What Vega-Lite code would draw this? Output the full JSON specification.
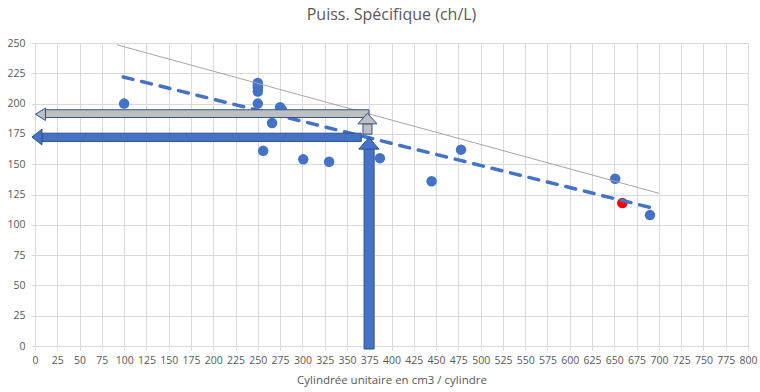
{
  "$schema": "https://vega.github.io/schema/vega-lite/v6.json",
  "width": 713,
  "height": 303,
  "autosize": "none",
  "padding": {"left": 35, "top": 43, "right": 12, "bottom": 46},
  "background": "white",
  "config": {
    "view": {"stroke": null},
    "font": "Open Sans",
    "axis": {
      "gridColor": "#D9D9D9",
      "gridWidth": 1,
      "tickColor": "#D9D9D9",
      "tickSize": 4,
      "domainColor": "#D9D9D9",
      "labelColor": "#595959",
      "labelFont": "Open Sans",
      "labelFontSize": 10.5,
      "titleColor": "#595959",
      "titleFont": "Open Sans",
      "titleFontSize": 11.5,
      "titleFontWeight": "normal"
    }
  },
  "title": {
    "text": "Puiss. Spécifique (ch/L)",
    "font": "Open Sans",
    "fontSize": 16,
    "fontWeight": "normal",
    "color": "#595959",
    "offset": 15
  },
  "datasets": {
    "points": [
      {"x": 100, "y": 200},
      {"x": 250, "y": 200},
      {"x": 250, "y": 210},
      {"x": 250, "y": 213},
      {"x": 250, "y": 215},
      {"x": 250, "y": 217},
      {"x": 256, "y": 161},
      {"x": 266, "y": 184},
      {"x": 275, "y": 197},
      {"x": 277, "y": 195},
      {"x": 301, "y": 154},
      {"x": 330, "y": 152},
      {"x": 387, "y": 155},
      {"x": 445, "y": 136},
      {"x": 478, "y": 162},
      {"x": 651, "y": 138},
      {"x": 690, "y": 108}
    ],
    "red": [{"x": 659, "y": 118}],
    "trend": [{"x": 99, "y": 222}, {"x": 692, "y": 114}],
    "limit": [{"x": 92, "y": 248.5}, {"x": 700, "y": 126}],
    "shafts": [
      {"arrow": "gray-h", "x": 11.7, "x2": 374.7, "y": 188.5, "y2": 194.9},
      {"arrow": "blue-h", "x": 7.9, "x2": 366.2, "y": 168.7, "y2": 175.6},
      {"arrow": "gray-v", "x": 368, "x2": 378.1, "y": 174.8, "y2": 183.3},
      {"arrow": "blue-v", "x": 369.2, "x2": 380.5, "y": -2.5, "y2": 162.4}
    ],
    "heads": [
      {"arrow": "gray-h", "x": 6.1, "y": 191.2},
      {"arrow": "blue-h", "x": 2.2, "y": 172.4},
      {"arrow": "gray-v", "x": 373, "y": 187.7},
      {"arrow": "blue-v", "x": 374.6, "y": 167.2}
    ]
  },
  "encoding": {
    "x": {
      "field": "x",
      "type": "quantitative",
      "scale": {"domain": [0, 800], "nice": false},
      "axis": {
        "title": "Cylindrée unitaire en cm3 / cylindre",
        "values": [0, 25, 50, 75, 100, 125, 150, 175, 200, 225, 250, 275, 300, 325, 350, 375, 400, 425, 450, 475, 500, 525, 550, 575, 600, 625, 650, 675, 700, 725, 750, 775, 800],
        "labelPadding": 5,
        "titlePadding": 9,
        "labelFlush": false,
        "labelOverlap": false
      }
    },
    "y": {
      "field": "y",
      "type": "quantitative",
      "scale": {"domain": [0, 250], "nice": false},
      "axis": {
        "title": null,
        "values": [0, 25, 50, 75, 100, 125, 150, 175, 200, 225, 250],
        "domain": false,
        "labelPadding": 6,
        "labelFlush": false,
        "labelOverlap": false
      }
    }
  },
  "layer": [
    {
      "data": {"name": "points"},
      "mark": {"type": "point", "shape": "circle", "filled": true, "size": 110, "color": "#4472C4", "opacity": 1}
    },
    {
      "data": {"name": "red"},
      "mark": {"type": "point", "shape": "circle", "filled": true, "size": 110, "color": "#FF0000", "opacity": 1}
    },
    {
      "data": {"name": "limit"},
      "mark": {"type": "line", "color": "#A6A6A6", "strokeWidth": 1}
    },
    {
      "data": {"name": "trend"},
      "mark": {"type": "line", "color": "#4472C4", "strokeWidth": 3.5, "strokeDash": [10, 9], "strokeCap": "round"}
    },
    {
      "data": {"name": "shafts"},
      "transform": [{"filter": "datum.arrow === 'gray-h' || datum.arrow === 'gray-v'"}],
      "mark": {"type": "rect", "fill": "#BFBFBF", "stroke": "#2F528F", "strokeWidth": 1},
      "encoding": {"x2": {"field": "x2"}, "y2": {"field": "y2"}}
    },
    {
      "data": {"name": "shafts"},
      "transform": [{"filter": "datum.arrow === 'blue-h' || datum.arrow === 'blue-v'"}],
      "mark": {"type": "rect", "fill": "#4472C4", "stroke": "#2F528F", "strokeWidth": 1},
      "encoding": {"x2": {"field": "x2"}, "y2": {"field": "y2"}}
    },
    {
      "data": {"name": "heads"},
      "transform": [{"filter": "datum.arrow === 'gray-h'"}],
      "mark": {"type": "point", "filled": true, "size": 400, "opacity": 1, "fill": "#BFBFBF", "stroke": "#2F528F", "strokeWidth": 1, "shape": "M-0.5,0L0.5,-0.62L0.5,0.62Z"}
    },
    {
      "data": {"name": "heads"},
      "transform": [{"filter": "datum.arrow === 'blue-h'"}],
      "mark": {"type": "point", "filled": true, "size": 400, "opacity": 1, "fill": "#4472C4", "stroke": "#2F528F", "strokeWidth": 1, "shape": "M-0.5,0L0.5,-0.79L0.5,0.79Z"}
    },
    {
      "data": {"name": "heads"},
      "transform": [{"filter": "datum.arrow === 'gray-v'"}],
      "mark": {"type": "point", "filled": true, "size": 400, "opacity": 1, "fill": "#BFBFBF", "stroke": "#2F528F", "strokeWidth": 1, "shape": "M0,-0.535L0.95,0.535L-0.95,0.535Z"}
    },
    {
      "data": {"name": "heads"},
      "transform": [{"filter": "datum.arrow === 'blue-v'"}],
      "mark": {"type": "point", "filled": true, "size": 400, "opacity": 1, "fill": "#4472C4", "stroke": "#2F528F", "strokeWidth": 1, "shape": "M0,-0.58L1.02,0.58L-1.02,0.58Z"}
    }
  ]
}
